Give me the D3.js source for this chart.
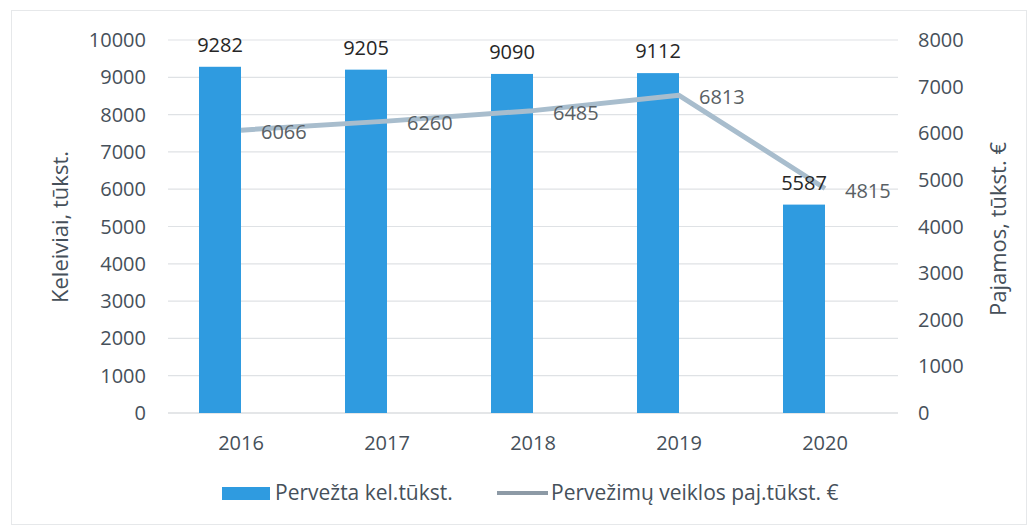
<!DOCTYPE html>
<meta charset="utf-8">
<script src="https://d3js.org/d3.v7.min.js"></script>
<style>
  body { margin: 0; background: #fff; }
  text { font-family: "Open Sans", Lato, sans-serif; }
</style>
<body>
<div id="chart"></div>
<script>

// data
var years = ["2016", "2017", "2018", "2019", "2020"];
var passengers = [9282, 9205, 9090, 9112, 5587];   // Pervežta kel.tūkst.
var revenue = [6066, 6260, 6485, 6813, 4815];       // Pervežimų veiklos paj.tūkst. €
var leftTicks = [0, 1000, 2000, 3000, 4000, 5000, 6000, 7000, 8000, 9000, 10000];
var rightTicks = [0, 1000, 2000, 3000, 4000, 5000, 6000, 7000, 8000];

var W = 1035, H = 528;
var barColor = "#2f9be0", lineColor = "#a8bdcd";

var svg = d3.select("#chart").append("svg")
    .attr("width", W)
    .attr("height", H);

// faint chart border
svg.append("rect")
    .attr("x", 11.5).attr("y", 10.5)
    .attr("width", W - 20).attr("height", H - 14)
    .attr("fill", "none")
    .attr("stroke", "#e6e8ea");

var x = d3.scaleBand().domain(years).range([168, 898]);
var yL = d3.scaleLinear().domain([0, 10000]).range([413, 40]);
var yR = d3.scaleLinear().domain([0, 8000]).range([413, 40]);
var barW = 42;
function cx(d) { return x(d) + x.bandwidth() / 2; }

// gridlines
svg.append("g")
  .selectAll("line")
  .data(leftTicks)
  .enter().append("line")
    .attr("x1", 168).attr("x2", 898)
    .attr("y1", function(d) { return yL(d); })
    .attr("y2", function(d) { return yL(d); })
    .attr("stroke", function(d) { return d == 0 ? "#c9cdd2" : "#dfe2e5"; })
    .attr("stroke-width", 1.2);

// left axis labels
svg.append("g")
  .selectAll("text")
  .data(leftTicks)
  .enter().append("text")
    .attr("x", 146)
    .attr("y", function(d) { return yL(d); })
    .attr("dy", "0.35em")
    .attr("text-anchor", "end")
    .style("font-size", "20px")
    .attr("fill", "#46505a")
    .text(function(d) { return d; });

// right axis labels
svg.append("g")
  .selectAll("text")
  .data(rightTicks)
  .enter().append("text")
    .attr("x", 918)
    .attr("y", function(d) { return yR(d); })
    .attr("dy", "0.35em")
    .style("font-size", "20px")
    .attr("fill", "#46505a")
    .text(function(d) { return d; });

// x labels
svg.append("g")
  .selectAll("text")
  .data(years)
  .enter().append("text")
    .attr("x", cx)
    .attr("y", 443)
    .attr("dy", "0.35em")
    .attr("text-anchor", "middle")
    .style("font-size", "20px")
    .attr("fill", "#46505a")
    .text(function(d) { return d; });

// axis titles
svg.append("text")
    .attr("transform", "translate(60,227) rotate(-90)")
    .attr("text-anchor", "middle")
    .attr("dy", "0.35em")
    .style("font-size", "22px")
    .attr("fill", "#46505a")
    .text("Keleiviai, tūkst.");

svg.append("text")
    .attr("transform", "translate(998,229) rotate(-90)")
    .attr("text-anchor", "middle")
    .attr("dy", "0.35em")
    .style("font-size", "22px")
    .attr("fill", "#46505a")
    .text("Pajamos, tūkst. €");

// bars
svg.append("g")
  .selectAll("rect")
  .data(years)
  .enter().append("rect")
    .attr("x", function(d) { return cx(d) - barW; })
    .attr("y", function(d, i) { return yL(passengers[i]); })
    .attr("width", barW)
    .attr("height", function(d, i) { return yL(0) - yL(passengers[i]); })
    .attr("fill", barColor);

// line
var pts = years.map(function(d, i) { return [cx(d), yR(revenue[i])]; });
svg.append("path")
    .attr("d", d3.line()(pts))
    .attr("fill", "none")
    .attr("stroke", lineColor)
    .attr("stroke-width", 5)
    .attr("stroke-linejoin", "round");

// bar value labels
svg.append("g")
  .selectAll("text")
  .data(years)
  .enter().append("text")
    .attr("x", function(d) { return cx(d) - barW / 2; })
    .attr("y", function(d, i) { return yL(passengers[i]) - 22; })
    .attr("dy", "0.35em")
    .attr("text-anchor", "middle")
    .style("font-size", "20px")
    .attr("fill", "#262626")
    .text(function(d, i) { return passengers[i]; });

// line value labels
svg.append("g")
  .selectAll("text")
  .data(years)
  .enter().append("text")
    .attr("x", function(d) { return cx(d) + 20; })
    .attr("y", function(d, i) { return yR(revenue[i]) + 2; })
    .attr("dy", "0.35em")
    .style("font-size", "20px")
    .attr("fill", "#595f64")
    .text(function(d, i) { return revenue[i]; });

// legend
var lg = svg.append("g");
lg.append("rect")
    .attr("x", 222).attr("y", 487)
    .attr("width", 48).attr("height", 13)
    .attr("fill", barColor);
lg.append("text")
    .attr("x", 275).attr("y", 493)
    .attr("dy", "0.35em")
    .style("font-size", "21px")
    .attr("fill", "#46505a")
    .text("Pervežta kel.tūkst.");
lg.append("line")
    .attr("x1", 497).attr("x2", 548)
    .attr("y1", 493).attr("y2", 493)
    .attr("stroke", "#8d9aa6")
    .attr("stroke-width", 4);
lg.append("text")
    .attr("x", 551).attr("y", 493)
    .attr("dy", "0.35em")
    .style("font-size", "21px")
    .attr("fill", "#46505a")
    .text("Pervežimų veiklos paj.tūkst. €");

</script>
</body>
